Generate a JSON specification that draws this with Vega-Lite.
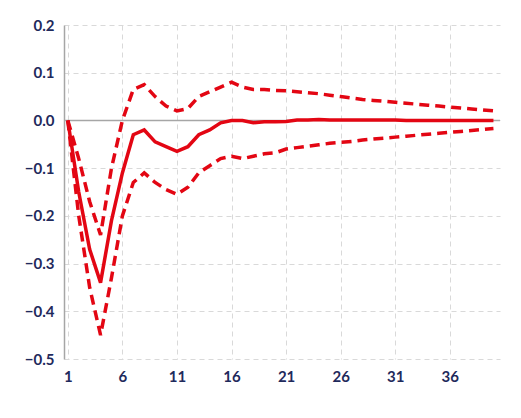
{
  "$schema": "https://vega.github.io/schema/vega-lite/v6.json",
  "width": 436,
  "height": 334,
  "padding": {"left": 24, "top": 18, "right": 14, "bottom": 8},
  "config": {
    "view": {"stroke": null},
    "axis": {"labelFont": "Lato", "labelFontSize": 15, "labelColor": "#1f2a5c", "labelFontWeight": "bold",
             "gridColor": "#d9d9d9", "gridDash": [5, 4], "ticks": false, "labelPadding": 10}
  },
  "datasets": {
    "irf": [
      {"h":1,"mid":0,"lo":0,"hi":0},{"h":2,"mid":-0.15,"lo":-0.2,"hi":-0.08},{"h":3,"mid":-0.27,"lo":-0.35,"hi":-0.17},
      {"h":4,"mid":-0.34,"lo":-0.45,"hi":-0.24},{"h":5,"mid":-0.21,"lo":-0.33,"hi":-0.1},{"h":6,"mid":-0.11,"lo":-0.2,"hi":0.0},
      {"h":7,"mid":-0.03,"lo":-0.13,"hi":0.065},{"h":8,"mid":-0.02,"lo":-0.11,"hi":0.075},{"h":9,"mid":-0.045,"lo":-0.13,"hi":0.05},
      {"h":10,"mid":-0.055,"lo":-0.145,"hi":0.03},{"h":11,"mid":-0.065,"lo":-0.155,"hi":0.02},{"h":12,"mid":-0.055,"lo":-0.14,"hi":0.025},
      {"h":13,"mid":-0.03,"lo":-0.11,"hi":0.05},{"h":14,"mid":-0.02,"lo":-0.095,"hi":0.06},{"h":15,"mid":-0.005,"lo":-0.08,"hi":0.07},
      {"h":16,"mid":0,"lo":-0.075,"hi":0.08},{"h":17,"mid":0,"lo":-0.08,"hi":0.07},{"h":18,"mid":-0.005,"lo":-0.075,"hi":0.065},
      {"h":19,"mid":-0.003,"lo":-0.07,"hi":0.065},{"h":20,"mid":-0.003,"lo":-0.068,"hi":0.063},{"h":21,"mid":-0.002,"lo":-0.06,"hi":0.062},
      {"h":22,"mid":0.001,"lo":-0.057,"hi":0.06},{"h":23,"mid":0.001,"lo":-0.054,"hi":0.058},{"h":24,"mid":0.002,"lo":-0.051,"hi":0.056},
      {"h":25,"mid":0.001,"lo":-0.048,"hi":0.053},{"h":26,"mid":0.001,"lo":-0.046,"hi":0.05},{"h":27,"mid":0.001,"lo":-0.044,"hi":0.047},
      {"h":28,"mid":0.001,"lo":-0.041,"hi":0.044},{"h":29,"mid":0.001,"lo":-0.039,"hi":0.042},{"h":30,"mid":0.001,"lo":-0.037,"hi":0.04},
      {"h":31,"mid":0.001,"lo":-0.035,"hi":0.038},{"h":32,"mid":0,"lo":-0.033,"hi":0.036},{"h":33,"mid":0,"lo":-0.031,"hi":0.034},
      {"h":34,"mid":0,"lo":-0.029,"hi":0.032},{"h":35,"mid":0,"lo":-0.027,"hi":0.03},{"h":36,"mid":0,"lo":-0.025,"hi":0.028},
      {"h":37,"mid":0,"lo":-0.023,"hi":0.026},{"h":38,"mid":0,"lo":-0.021,"hi":0.024},{"h":39,"mid":0,"lo":-0.019,"hi":0.022},
      {"h":40,"mid":0,"lo":-0.017,"hi":0.02}
    ],
    "zero": [{"z": 0}]
  },
  "layer": [
    {
      "data": {"name": "zero"},
      "mark": {"type": "rule", "color": "#a6a6a6", "strokeWidth": 1.5},
      "encoding": {"y": {"field": "z", "type": "quantitative"}}
    },
    {
      "data": {"name": "irf"},
      "transform": [{"fold": ["lo", "hi"], "as": ["band", "v"]}],
      "mark": {"type": "line", "color": "#e30613", "strokeWidth": 3.5, "strokeDash": [10, 6]},
      "encoding": {
        "detail": {"field": "band"},
        "x": {"field": "h", "type": "quantitative", "title": null, "scale": {"domain": [0.65, 40.6], "nice": false, "zero": false},
              "axis": {"values": [1, 6, 11, 16, 21, 26, 31, 36], "domain": false, "grid": true}},
        "y": {"field": "v", "type": "quantitative", "title": null, "scale": {"domain": [-0.5, 0.2], "nice": false},
              "axis": {"values": [-0.5, -0.4, -0.3, -0.2, -0.1, 0, 0.1, 0.2], "format": ".1f", "domainColor": "#a6a6a6", "domainWidth": 1.5}}
      }
    },
    {
      "data": {"name": "irf"},
      "mark": {"type": "line", "color": "#e30613", "strokeWidth": 3.5},
      "encoding": {
        "x": {"field": "h", "type": "quantitative"},
        "y": {"field": "mid", "type": "quantitative"}
      }
    }
  ]
}
